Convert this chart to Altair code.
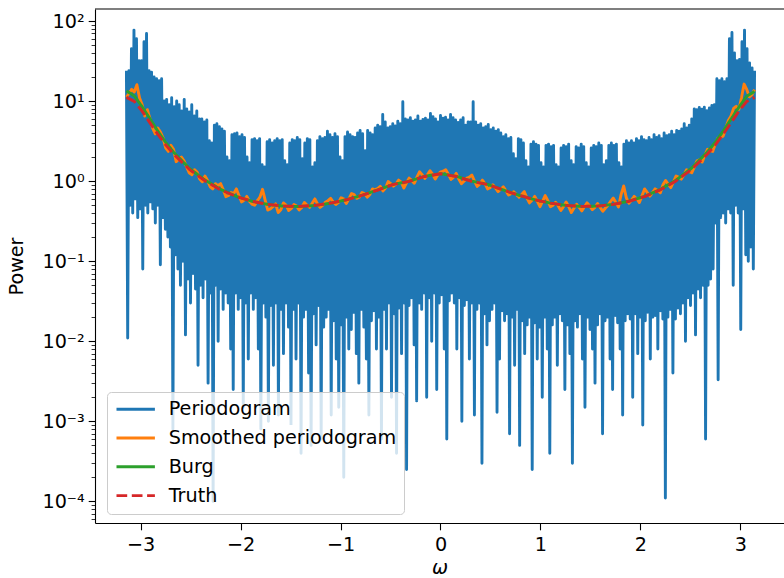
import numpy as np
import pandas as pd
import altair as alt

# ---------------- data ----------------
series_names = ["Periodogram", "Smoothed periodogram", "Burg", "Truth"]
series_colors = ["#1f77b4", "#ff7f0e", "#2ca02c", "#d62728"]

# Periodogram: alternating local maxima / minima read along the frequency axis
pgram_peaks = [
    24, 24, 45, 77, 60, 32, 32, 55, 70, 24,
    23, 20, 19, 18, 19, 10, 10.5, 9, 11, 8.5,
    10, 9, 7.5, 10.5, 8, 7.3, 9, 6.5, 7.5, 6,
    6, 5.5, 5.8, 3.2, 3.0, 5, 5.2, 4.8, 4.5, 4.2,
    2.0, 1.8, 3.8, 3.9, 4.0, 3.6, 3.8, 3.5, 2.0, 1.7,
    3.3, 3.4, 3.2, 3.4, 1.6, 1.5, 3.1, 3.3, 3.0, 3.2,
    3.4, 3.2, 3.3, 1.8, 1.6, 3.0, 3.3, 3.2, 3.5, 3.3,
    1.9, 3.0, 3.4, 3.3, 1.5, 1.7, 3.2, 3.6, 3.4, 3.5,
    4.2, 3.8, 3.5, 3.9, 3.6, 2.0, 1.8, 3.6, 4.1, 3.8,
    3.6, 3.5, 4.0, 4.3, 3.9, 2.4, 4.3, 4.0, 3.8, 4.6,
    5.0, 4.8, 6.8, 5.5, 4.6, 4.8, 5.2, 4.9, 5.6, 5.2,
    9.8, 6.0, 5.8, 6.2, 5.6, 5.8, 6.5, 5.6, 5.9, 6.1,
    5.8, 7.0, 6.4, 6.0, 5.5, 6.6, 6.1, 6.3, 5.8, 6.8,
    6.2, 5.8, 5.4, 5.8, 6.2, 5.0, 5.5, 5.5, 9.8, 5.5,
    5.0, 5.2, 4.6, 4.8, 5.1, 4.4, 4.6, 4.2, 4.4, 4.0,
    3.6, 3.8, 3.4, 3.5, 2.2, 1.9, 3.4, 3.3, 3.0, 1.8,
    1.5, 2.9, 3.1, 2.9, 2.8, 1.7, 1.5, 2.8, 2.9, 2.7,
    2.8, 1.6, 1.5, 2.6, 2.8, 2.7, 2.9, 1.8, 1.6, 2.7,
    2.6, 2.9, 2.7, 1.7, 1.5, 2.6, 2.8, 2.7, 3.0, 2.8,
    1.6, 1.8, 2.8, 3.0, 2.8, 2.9, 1.7, 1.5, 2.9, 3.2,
    3.0, 3.2, 3.0, 3.4, 3.2, 3.6, 3.3, 3.2, 3.5, 3.3,
    3.8, 3.5, 3.7, 3.4, 4.0, 3.7, 3.8, 4.2, 3.8, 4.3,
    4.2, 4.5, 5.2, 4.6, 5.0, 6.0, 8.0, 7.8, 8.3, 7.9,
    8.4, 7.6, 8.2, 8.8, 9.0, 19, 18, 19, 17.5, 19,
    60, 72, 40, 32, 33, 55, 77, 45, 30, 26,
    24,
]
pgram_troughs = [
    0.011, 0.5, 0.4, 0.6, 0.35, 0.45, 0.08, 0.5, 0.4, 0.55,
    0.45, 0.3, 0.5, 0.09, 0.35, 0.25, 0.2, 0.15, 0.0008, 0.12,
    0.08, 0.05, 0.1, 0.012, 0.06, 0.03, 0.07, 0.045, 0.005, 0.05,
    0.035, 0.06, 0.003, 0.04, 0.0001, 0.05, 0.01, 0.045, 0.025, 0.04,
    0.03, 0.008, 0.0025, 0.04, 0.025, 0.035, 0.0015, 0.03, 0.006, 0.04,
    0.025, 0.035, 0.008, 0.0008, 0.03, 0.02, 0.001, 0.028, 0.005, 0.03,
    0.0012, 0.025, 0.007, 0.03, 0.015, 0.0009, 0.025, 0.006, 0.03, 0.0004,
    0.02, 0.025, 0.004, 0.0005, 0.022, 0.009, 0.028, 0.0006, 0.015, 0.02,
    0.025, 0.0012, 0.018, 0.006, 0.0015, 0.016, 0.0002, 0.02, 0.008, 0.014,
    0.022, 0.007, 0.003, 0.025, 0.015, 0.006, 0.0012, 0.018, 0.024, 0.008,
    0.02, 0.0006, 0.025, 0.008, 0.03, 0.002, 0.022, 0.0004, 0.026, 0.007,
    0.03, 0.00025, 0.028, 0.035, 0.009, 0.0018, 0.03, 0.025, 0.04, 0.002,
    0.035, 0.01, 0.04, 0.0025, 0.03, 0.038, 0.008, 0.0006, 0.032, 0.04,
    0.03, 0.008, 0.035, 0.001, 0.028, 0.033, 0.006, 0.03, 0.0012, 0.025,
    0.03, 0.0003, 0.022, 0.009, 0.018, 0.025, 0.03, 0.0013, 0.006, 0.024,
    0.018, 0.022, 0.0007, 0.02, 0.005, 0.025, 0.0005, 0.018, 0.007, 0.016,
    0.02, 0.00025, 0.017, 0.006, 0.015, 0.002, 0.02, 0.008, 0.0004, 0.016,
    0.02, 0.005, 0.022, 0.018, 0.0025, 0.016, 0.007, 0.0003, 0.018, 0.015,
    0.022, 0.006, 0.0015, 0.02, 0.014, 0.008, 0.003, 0.016, 0.022, 0.0007,
    0.018, 0.02, 0.006, 0.0025, 0.021, 0.017, 0.008, 0.0012, 0.018, 0.022,
    0.019, 0.002, 0.022, 0.007, 0.02, 0.0009, 0.018, 0.023, 0.006, 0.02,
    0.021, 0.008, 0.024, 0.019, 0.00011, 0.02, 0.025, 0.004, 0.019, 0.026,
    0.022, 0.03, 0.01, 0.035, 0.028, 0.04, 0.012, 0.045, 0.035, 0.05,
    0.0006, 0.05, 0.06, 0.08, 0.3, 0.0033, 0.35, 0.4, 0.3, 0.45,
    0.4, 0.05, 0.5, 0.4, 0.014, 0.45, 0.12, 0.1, 0.15, 0.08,
]

smoothed_power = [
    11.2, 12.5, 14, 13, 16, 11, 9.0, 6.5, 7.8, 6.0,
    4.6, 3.9, 4.6, 4.1, 3.45, 2.6, 2.35, 2.8, 2.5, 1.75,
    1.88, 2.0, 1.8, 1.5, 1.27, 1.2, 1.39, 1.3, 1.06, 0.98,
    1.16, 1.02, 0.85, 0.8, 0.93, 0.88, 0.93, 0.78, 0.64, 0.66,
    0.72, 0.7, 0.80, 0.66, 0.55, 0.58, 0.645, 0.56, 0.515, 0.50,
    0.57, 0.63, 0.79, 0.58, 0.435, 0.45, 0.48, 0.52, 0.405, 0.44,
    0.535, 0.5, 0.43, 0.455, 0.51, 0.49, 0.435, 0.47, 0.54, 0.5,
    0.47, 0.53, 0.60, 0.52, 0.47, 0.5, 0.545, 0.57, 0.61, 0.55,
    0.51, 0.54, 0.62, 0.6, 0.525, 0.6, 0.70, 0.68, 0.61, 0.63,
    0.72, 0.7, 0.63, 0.68, 0.80, 0.78, 0.81, 0.86, 0.755, 0.82,
    0.99, 0.93, 0.865, 0.92, 1.03, 0.97, 0.82, 0.95, 1.09, 1.02,
    0.94, 1.12, 1.31, 1.2, 1.08, 1.2, 1.35, 1.22, 1.06, 1.2,
    1.30,
    1.33, 1.39, 1.22, 1.05, 1.12, 1.25, 1.06, 0.93, 1.0,
    1.09, 1.12, 1.19, 1.0, 0.86, 0.92, 1.03, 0.93, 0.80, 0.83,
    0.90, 0.82, 0.74, 0.79, 0.85, 0.76, 0.67, 0.7, 0.735, 0.68,
    0.63, 0.68, 0.74, 0.62, 0.535, 0.58, 0.645, 0.56, 0.48, 0.56,
    0.66, 0.57, 0.48, 0.5, 0.545, 0.49, 0.43, 0.48, 0.55, 0.48,
    0.405, 0.46, 0.515, 0.47, 0.425, 0.48, 0.535, 0.49, 0.44, 0.47,
    0.525, 0.47, 0.42, 0.46, 0.50, 0.56, 0.615, 0.54, 0.475, 0.68,
    0.87, 0.62, 0.53, 0.58, 0.645, 0.6, 0.54, 0.66, 0.80, 0.72,
    0.65, 0.72, 0.80, 0.76, 0.715, 0.9, 1.02, 0.92, 0.83, 0.98,
    1.16, 1.12, 1.06, 1.2, 1.39, 1.32, 1.27, 1.5, 1.79, 1.85,
    1.73, 2.1, 2.5, 2.4, 2.35, 2.9, 3.45, 3.5, 3.65, 4.6,
    5.75, 6.5, 8.1, 8.6, 7.85, 11, 16.3, 14, 11.3, 12,
    13.9,
]

curve_omega = [
    -3.1416, -3.063, -2.985, -2.906, -2.827, -2.749, -2.670, -2.513, -2.356, -2.199,
    -2.042, -1.885, -1.728, -1.571, -1.414, -1.257, -1.100, -0.942, -0.785, -0.628,
    -0.471, -0.314, -0.157, 0.0,
    0.157, 0.314, 0.471, 0.628, 0.785, 0.942, 1.100, 1.257, 1.414, 1.571,
    1.728, 1.885, 2.042, 2.199, 2.356, 2.513, 2.670, 2.749, 2.827, 2.906,
    2.985, 3.063, 3.1416,
]
truth_power = [
    11.11, 9.91, 7.49, 5.34, 3.84, 2.84, 2.18, 1.405, 1.005, 0.778,
    0.642, 0.560, 0.512, 0.488, 0.484, 0.498, 0.531, 0.585, 0.665, 0.773,
    0.909, 0.992, 1.144, 1.235,
    1.144, 0.992, 0.909, 0.773, 0.665, 0.585, 0.531, 0.498, 0.484, 0.488,
    0.512, 0.560, 0.642, 0.778, 1.005, 1.405, 2.18, 2.84, 3.84, 5.34,
    7.49, 9.91, 11.11,
]
burg_power = [
    13.4, 11.6, 8.5, 6.0, 4.2, 3.05, 2.3, 1.45, 1.03, 0.79,
    0.645, 0.56, 0.512, 0.487, 0.482, 0.496, 0.53, 0.585, 0.667, 0.777,
    0.913, 0.996, 1.15, 1.24,
    1.15, 0.997, 0.912, 0.776, 0.666, 0.586, 0.531, 0.497, 0.483, 0.488,
    0.513, 0.562, 0.646, 0.788, 1.03, 1.46, 2.32, 3.07, 4.2, 5.95,
    8.4, 11.5, 13.2,
]

x_tick_values = [-3, -2, -1, 0, 1, 2, 3]

# ---------------- tables ----------------
pgram_power = []
for pk, tr in zip(pgram_peaks[:-1], pgram_troughs):
    pgram_power += [pk, tr]
pgram_power.append(pgram_peaks[-1])

df_pgram = pd.DataFrame({
    "omega": np.linspace(-np.pi, np.pi, len(pgram_power)),
    "power": pgram_power, "series": series_names[0]})
df_smooth = pd.DataFrame({
    "omega": np.linspace(-np.pi, np.pi, len(smoothed_power)),
    "power": smoothed_power, "series": series_names[1]})
df_burg = pd.DataFrame({"omega": curve_omega, "power": burg_power, "series": series_names[2]})
df_truth = pd.DataFrame({"omega": curve_omega, "power": truth_power, "series": series_names[3]})

# ---------------- layout constants ----------------
W, H = 689, 514
YMIN, YMAX = 5.37e-5, 141.25
FONT = "DejaVu Sans"
FS = 19.2
LW = 2.9

y_ticks = []
for e in range(-5, 3):
    for m in range(1, 10):
        v = m * 10.0 ** e
        if YMIN <= v <= YMAX:
            y_ticks.append(v)

LOGV = "(log(datum.value)/LN10)"
is_major = f"abs({LOGV} - round({LOGV})) < 1e-6"
sup = {2: "10²", 1: "10¹", 0: "10⁰", -1: "10⁻¹", -2: "10⁻²", -3: "10⁻³", -4: "10⁻⁴"}
lab = "''"
for k, s in sup.items():
    lab = f"(round({LOGV}) == {k}) ? '{s}' : ({lab})"
y_label_expr = f"({is_major}) ? ({lab}) : ''"

x_axis = alt.Axis(values=x_tick_values, title="ω", titleFontStyle="italic",
                  labelExpr="datum.value < 0 ? '−' + abs(datum.value) : '' + datum.value",
                  tickSize=6.8, labelPadding=6, titlePadding=3, grid=False,
                  labelFlush=False)
y_axis = alt.Axis(values=y_ticks, title="Power", labelExpr=y_label_expr,
                  tickSize={"condition": {"test": is_major, "value": 6.8}, "value": 3.9},
                  tickWidth={"condition": {"test": is_major, "value": 1.1}, "value": 0.8},
                  labelPadding=4, titlePadding=15, grid=False, labelOverlap=False,
                  labelFlush=False)

x_enc = alt.X("omega:Q", scale=alt.Scale(domain=[-3.456, 3.436], nice=False, zero=False), axis=x_axis)
y_enc = alt.Y("power:Q", scale=alt.Scale(type="log", domain=[YMIN, YMAX], nice=False), axis=y_axis)

legend = alt.Legend(orient="none", legendX=12, legendY=383, title=None,
                    symbolType="stroke", symbolSize=1475, symbolStrokeWidth=LW,
                    clipHeight=19, rowPadding=8.8, labelOffset=12,
                    labelFont=FONT, labelFontSize=FS, labelColor="black", labelLimit=500,
                    padding=7.7, strokeColor="#cccccc", fillColor="rgba(255,255,255,0.8)",
                    cornerRadius=4)
color_enc = alt.Color("series:N", scale=alt.Scale(domain=series_names, range=series_colors), legend=legend)
dash_enc = alt.StrokeDash("series:N", scale=alt.Scale(domain=series_names,
                          range=[[1, 0], [1, 0], [1, 0], [10.7, 4.6]]), legend=legend)


def line_layer(df):
    return alt.Chart(df).mark_line(strokeWidth=LW, strokeJoin="round", clip=True).encode(
        x=x_enc, y=y_enc, color=color_enc, strokeDash=dash_enc)


top_spine = alt.Chart(pd.DataFrame({"a": [0]})).mark_rule(color="black", strokeWidth=1.1).encode(
    x=alt.value(0), x2=alt.value(W), y=alt.value(0))

chart = alt.layer(
    line_layer(df_pgram), line_layer(df_smooth), line_layer(df_burg), line_layer(df_truth), top_spine
).properties(
    width=W, height=H,
    padding={"left": 95, "top": 9, "right": 0, "bottom": 55},
    autosize=alt.AutoSizeParams(type="none"),
).configure_view(stroke=None).configure_axis(
    domainColor="black", domainWidth=1.1, tickColor="black", tickWidth=1.1,
    labelColor="black", labelFont=FONT, labelFontSize=FS,
    titleFont=FONT, titleFontSize=FS, titleFontWeight="normal", titleColor="black",
)

chart.save("out.html", embed_options={"renderer": "svg", "actions": False})
